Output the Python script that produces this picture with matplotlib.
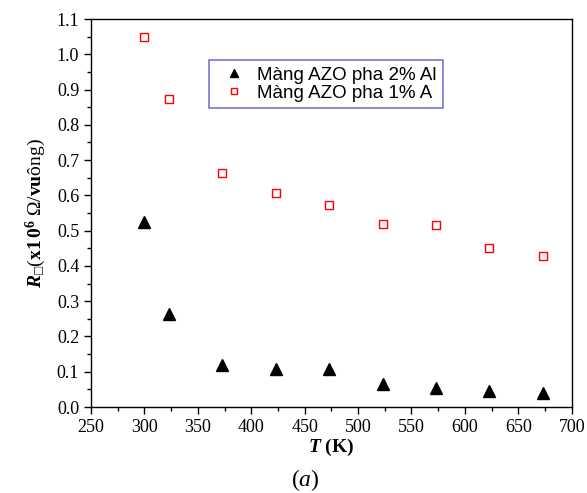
import numpy as np
import matplotlib
matplotlib.use("Agg")
import matplotlib.pyplot as plt
from matplotlib.ticker import MultipleLocator, FormatStrFormatter

# data
T = [300, 323, 373, 423, 473, 523, 573, 623, 673]
R_2pct = [0.525, 0.263, 0.120, 0.107, 0.108, 0.065, 0.053, 0.045, 0.040]
R_1pct = [1.050, 0.873, 0.663, 0.607, 0.573, 0.518, 0.515, 0.450, 0.427]
labels = ["Màng AZO pha 2% Al", "Màng AZO pha 1% A"]

plt.rcParams['mathtext.fontset'] = 'custom'
plt.rcParams['mathtext.rm'] = 'Liberation Serif'
plt.rcParams['mathtext.it'] = 'Liberation Serif:italic'
plt.rcParams['mathtext.bf'] = 'Liberation Serif:bold'
plt.rcParams['mathtext.bfit'] = 'Liberation Serif:bold:italic'
plt.rcParams['mathtext.fallback'] = 'stix'

fig = plt.figure(figsize=(5.87, 4.93), dpi=100)
ax = fig.add_axes([0.155, 0.1744, 0.819, 0.787])

ax.plot(T, R_2pct, linestyle="none", marker="^", color="k", markersize=8, label=labels[0])
ax.plot(T, R_1pct, linestyle="none", marker="s", markerfacecolor="white",
        markeredgecolor="red", markeredgewidth=1.0, markersize=6, label=labels[1])

ax.set_xlim(250, 700)
ax.set_ylim(0, 1.1)
ax.xaxis.set_major_locator(MultipleLocator(50))
ax.xaxis.set_minor_locator(MultipleLocator(25))
ax.yaxis.set_major_locator(MultipleLocator(0.1))
ax.yaxis.set_minor_locator(MultipleLocator(0.05))
ax.yaxis.set_major_formatter(FormatStrFormatter("%.1f"))
ax.tick_params(which="both", direction="out", top=False, right=False,
               labelsize=13, width=1)
ax.tick_params(which="major", length=5)
ax.tick_params(which="minor", length=3)
for lab in ax.get_xticklabels() + ax.get_yticklabels():
    lab.set_fontfamily("Liberation Serif")
for sp in ax.spines.values():
    sp.set_linewidth(1.0)

ax.set_xlabel(r"$\mathbfit{T}$ (K)", fontsize=14, fontweight="bold",
              family="Liberation Serif", labelpad=1)
ax.set_ylabel("$\\mathbfit{R}_{\u25a1}$($\\mathbf{x1\\,0^{6}}$ $\\Omega$/$\\mathbf{vu}$" + "ông)",
              fontsize=14, family="Liberation Serif", labelpad=6)

leg = ax.legend(loc="upper left", bbox_to_anchor=(0.245, 0.894), borderaxespad=0,
                frameon=True, fancybox=False, edgecolor="#5555cc",
                prop={"family": "Liberation Sans", "size": 13.5},
                handletextpad=0.2, borderpad=0.35, labelspacing=0.05, markerscale=0.8)
leg.get_frame().set_linewidth(1.2)

fig.text(0.52, 0.015, r"($\mathit{a}$)", fontsize=17, family="Liberation Serif", ha="center")

fig.savefig("out.png", dpi=100)
